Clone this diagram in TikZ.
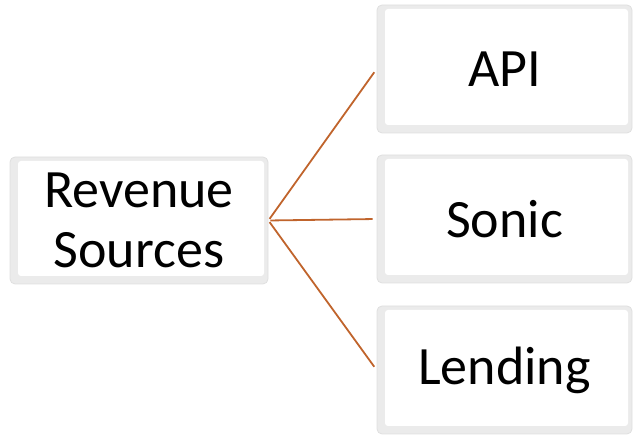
\documentclass[tikz,border=0pt]{standalone}
\usepackage{fontspec}
\setmainfont{Carlito}
\usepackage{tikz}
\usetikzlibrary{positioning}
\definecolor{linkbrown}{RGB}{192,100,44}

\begin{document}
\begin{tikzpicture}[x=1pt,y=1pt,
      card/.style={draw=gray!25,rounded corners=5pt,line width=0.8pt,
                   fill=gray!16,align=center,
                   font=\fontsize{54}{60}\selectfont,
                   path picture={\fill[white,rounded corners=3pt]
                     ([shift={(8pt,8pt)}]path picture bounding box.south west)
                     rectangle ([shift={(-4pt,-4pt)}]path picture bounding box.north east);}},
      link/.style={draw=linkbrown,line width=1.8pt,shorten <=2pt,shorten >=4pt}]
    \useasboundingbox (0,0) rectangle (633,436);
    % root
    \node[card,minimum width=258pt,minimum height=127pt] (rev) at (139,215.5) {Revenue\\Sources};
    % sources
    \node[card,minimum width=255pt,minimum height=128pt] (api) at (504.5,367) {API};
    \node[card,minimum width=255pt,minimum height=128pt] (sonic) at (504.5,217) {Sonic};
    \node[card,minimum width=255pt,minimum height=128pt] (lend) at (504.5,66) {Lending};
    % connectors
    \draw[link] (rev.east) -- (api.west);
    \draw[link] (rev.east) -- (sonic.west);
    \draw[link] (rev.east) -- (lend.west);
  \end{tikzpicture}
\end{document}
